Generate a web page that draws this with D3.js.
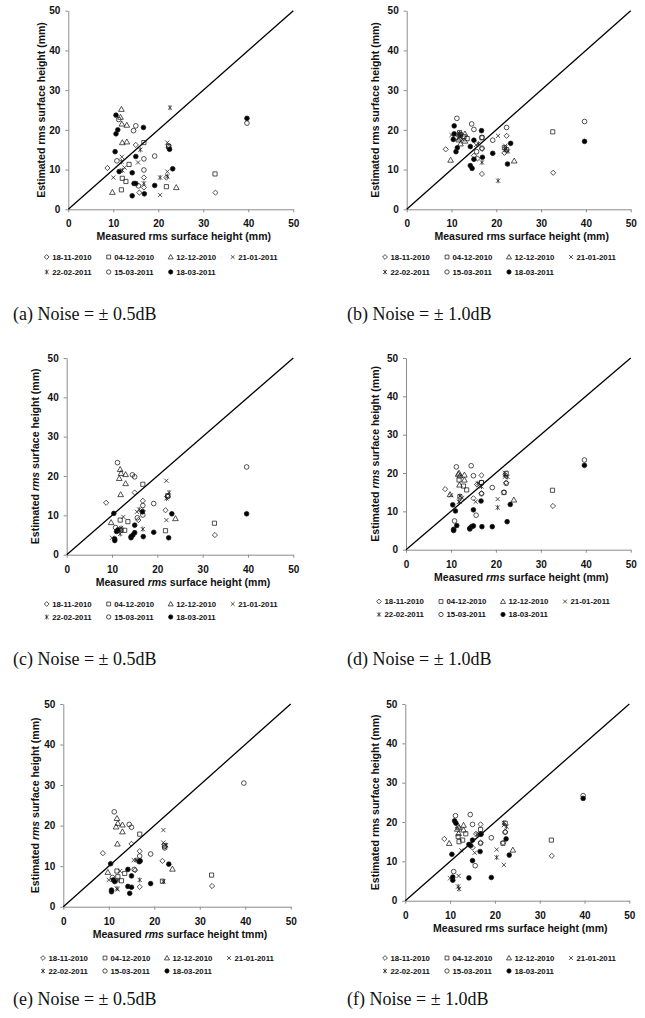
<!DOCTYPE html>
<html>
<head>
<meta charset="utf-8">
<script src="https://cdnjs.cloudflare.com/ajax/libs/d3/7.8.5/d3.min.js"></script>
<style>
  body { margin: 0; background: #fff; }
</style>
</head>
<body>
<div id="chart"></div>
<script>
// survey dates (legend) and marker style per date
var dates = ["18-11-2010", "04-12-2010", "12-12-2010", "21-01-2011", "22-02-2011", "15-03-2011", "18-03-2011"];
var shapes = ["diamond", "square", "triangle", "cross", "star", "circle", "dot"];

// measured rms surface height (mm), same field points in every panel
var meas1 = [8.7, 15.0, 15.8, 16.8, 16.8, 21.8, 22.3, 32.7];
var meas2 = [11.8, 12.0, 12.8, 13.5, 16.8, 21.8, 22.3, 32.6];
var meas3 = [9.8, 11.6, 11.8, 11.9, 12.0, 13.0, 13.0, 24.0];
var meas4 = [10.0, 11.9, 12.5, 15.5, 20.4, 22.0, 22.0];
var meas5 = [11.8, 12.0, 16.0, 16.8, 20.4, 22.0, 22.6];
var meas6 = [10.8, 11.2, 14.5, 15.0, 15.6, 16.8, 16.8, 19.2, 22.3, 39.7];
var meas7 = [10.4, 10.6, 10.6, 11.0, 11.3, 14.2, 14.2, 14.6, 15.0, 15.0, 16.7, 16.9, 19.2, 22.5, 23.2, 39.7];
var measured = [meas1, meas2, meas3, meas4, meas5, meas6, meas7];

// estimated rms surface height (mm), one list per date, per panel
var estA = [
  [10.4, 16.2, 4.2, 8.0, 5.5, 8.0, 15.5, 4.2],
  [4.9, 7.8, 7.0, 11.3, 16.8, 5.7, 15.8, 8.9],
  [4.3, 23.2, 25.2, 21.5, 16.8, 21.2, 17.0, 5.5],
  [8.0, 13.2, 10.5, 11.8, 3.6, 16.8, 9.5],
  [12.0, 9.8, 15.0, 6.5, 8.0, 8.3, 25.6],
  [12.2, 22.6, 19.8, 21.0, 5.9, 12.7, 9.9, 13.4, 16.0, 21.7],
  [14.5, 23.7, 19.0, 20.0, 9.5, 9.2, 3.4, 6.5, 6.5, 13.3, 20.6, 3.9, 6.0, 15.1, 10.2, 22.9]
];
var estB = [
  [15.1, 13.5, 12.8, 8.9, 15.2, 14.2, 18.5, 9.2],
  [19.3, 18.8, 18.3, 17.8, 18.0, 15.5, 15.0, 19.5],
  [12.4, 17.5, 19.0, 18.0, 16.5, 19.0, 17.2, 12.2],
  [18.7, 18.2, 17.6, 16.2, 18.5, 15.5, 16.0],
  [19.0, 18.5, 16.5, 11.8, 7.2, 15.0, 14.6],
  [18.0, 22.9, 21.5, 20.1, 14.5, 18.1, 15.4, 17.4, 20.6, 22.1],
  [17.6, 21.0, 19.0, 14.5, 15.5, 15.8, 11.0, 10.3, 17.4, 12.6, 19.8, 13.1, 14.1, 11.4, 16.6, 17.1]
];
var estC = [
  [13.2, 15.8, 8.8, 13.7, 11.1, 11.3, 14.8, 5.0],
  [8.8, 6.3, 6.2, 8.4, 17.9, 6.1, 15.0, 8.0],
  [8.2, 19.4, 21.7, 15.3, 20.7, 20.4, 18.1, 9.2],
  [4.3, 6.0, 9.6, 10.9, null, 18.8, 8.8],
  [5.3, 6.8, 11.5, 6.5, null, 14.3, 15.8],
  [6.9, 23.4, 20.3, 19.8, 9.4, 12.5, 10.1, 13.0, 14.8, 22.3],
  [10.5, 4.0, 3.6, 5.9, 6.3, 4.6, 4.3, 5.0, 7.5, 5.6, 10.9, 4.6, 5.7, 4.3, 10.4, 10.4]
];
var estD = [
  [15.8, 13.4, 17.0, 19.4, 14.7, 15.0, 17.5, 11.4],
  [18.2, 13.8, 16.6, 15.6, 17.5, 14.9, 19.9, 15.5],
  [14.4, 19.7, 20.0, 16.9, 19.3, 19.5, 18.2, 13.0],
  [14.2, 12.5, 13.5, 12.5, 13.2, 20.1, 19.0],
  [12.5, 14.0, 17.3, 16.5, 11.0, 19.5, 19.0],
  [7.5, 21.6, 21.9, 19.3, 9.0, 17.5, 14.6, 16.2, 17.3, 23.4],
  [11.7, 5.3, 5.0, 10.1, 6.3, 5.4, 5.6, 6.0, 6.2, 10.4, 12.7, 6.0, 6.0, 7.3, 11.8, 22.0]
];
var estE = [
  [13.2, 15.5, 9.0, 13.7, 4.9, 11.3, 14.8, 5.1],
  [8.8, 7.4, 6.4, 8.2, 17.9, 6.3, 15.0, 7.8],
  [8.5, 19.7, 21.8, 15.5, 20.6, 18.5, 20.2, 9.3],
  [6.6, 4.3, 8.8, 11.5, null, 18.9, 15.8],
  [4.5, 6.5, 11.5, 6.6, null, 6.2, 15.2],
  [7.2, 23.4, 20.3, 19.6, 9.2, 12.5, 11.3, 13.0, 14.5, 30.5],
  [10.6, 3.7, 4.1, 6.6, 6.2, 9.2, 5.0, 3.3, 4.8, 7.6, 11.1, 11.3, 5.7, null, 10.5, null]
];
var estF = [
  [15.7, 13.5, 17.0, 19.4, 14.8, 14.7, 17.5, 11.4],
  [16.3, 15.0, 15.4, 17.0, 18.1, 14.6, 19.7, 15.4],
  [14.6, 18.2, 19.0, 17.1, 18.6, 19.2, 18.0, 12.9],
  [5.7, 6.3, 12.8, 12.2, 13.0, 19.2, 9.1],
  [3.6, 3.0, 16.8, 17.0, 11.0, 19.8, 18.8],
  [7.4, 21.6, 21.9, 19.4, 8.9, 16.9, 14.6, 16.0, 17.4, 26.7],
  [11.8, 5.2, 6.0, 20.3, 19.7, 14.3, 5.8, 14.0, 15.4, 10.2, 12.5, 16.9, 5.9, 15.7, 11.6, 26.0]
];
var estimates = [estA, estB, estC, estD, estE, estF];

var captions = ["(a) Noise = \u00b1 0.5dB", "(b) Noise = \u00b1 1.0dB", "(c) Noise = \u00b1 0.5dB",
                "(d) Noise = \u00b1 1.0dB", "(e) Noise = \u00b1 0.5dB", "(f) Noise = \u00b1 1.0dB"];
var xTitleEnd = ["(mm)", "(mm)", "(mm)", "(mm)", "tmm)", "(mm)"];
var italicRms = [false, false, true, true, true, false];
var ticks = [0, 10, 20, 30, 40, 50];

// where each panel sits on the page
var layout = [
  {x0: 68.3, x1: 293.3, top: 10.7, bot: 209.3, yt: -27, legX: 46.7, legY: 257, legY2: 272, capX: 13, capY: 320},
  {x0: 406.7, x1: 630.7, top: 10.7, bot: 209.3, yt: -31, legX: 385, legY: 257, legY2: 272, capX: 347, capY: 320},
  {x0: 66.7, x1: 293.3, top: 358, bot: 554.7, yt: -31, legX: 46.7, legY: 604, legY2: 617, capX: 13, capY: 665},
  {x0: 406, x1: 630.7, top: 358, bot: 549.7, yt: -31, legX: 379, legY: 601.5, legY2: 614.5, capX: 347, capY: 665},
  {x0: 63.3, x1: 290.7, top: 704, bot: 906.7, yt: -28, legX: 43, legY: 958, legY2: 971, capX: 13, capY: 1005},
  {x0: 405.3, x1: 629.3, top: 704, bot: 900.7, yt: -30, legX: 385, legY: 958, legY2: 971, capX: 347, capY: 1005}
];

var sans = "'Liberation Sans', Arial, sans-serif";
var serif = "'Liberation Serif', 'Times New Roman', serif";

var svg = d3.select("#chart").append("svg")
  .attr("width", 645)
  .attr("height", 1018);

// marker outlines
function markerPath(type, s) {
  var q = s * 0.8;
  if (type == "diamond") return "M0," + (-s) + "L" + s + ",0L0," + s + "L" + (-s) + ",0Z";
  if (type == "square") return "M" + (-q) + "," + (-q) + "H" + q + "V" + q + "H" + (-q) + "Z";
  if (type == "triangle") return "M0," + (-s * 1.05) + "L" + (s * 1.05) + "," + (s * 0.8) + "L" + (-s * 1.05) + "," + (s * 0.8) + "Z";
  if (type == "cross") return "M" + (-q) + "," + (-q) + "L" + q + "," + q + "M" + (-q) + "," + q + "L" + q + "," + (-q);
  if (type == "star") return "M" + (-q) + "," + (-q) + "L" + q + "," + q + "M" + (-q) + "," + q + "L" + q + "," + (-q) + "M0," + (-s) + "L0," + s;
  var p = d3.path();
  p.arc(0, 0, s * 0.9, 0, 2 * Math.PI);
  return p.toString();
}

function drawMarker(g, type, s) {
  g.append("path")
    .attr("d", markerPath(type, s))
    .attr("fill", type == "dot" ? "#000" : "none")
    .attr("stroke", "#1a1a1a")
    .attr("stroke-width", 0.75);
}

function titleText(sel, first, rest, italic) {
  sel.append("tspan").text(first);
  sel.append("tspan").attr("font-style", italic ? "italic" : "normal").text("rms");
  sel.append("tspan").text(rest);
}

layout.forEach(function(L, p) {
  var x = d3.scaleLinear().domain([0, 50]).range([L.x0, L.x1]);
  var y = d3.scaleLinear().domain([0, 50]).range([L.bot, L.top]);
  var g = svg.append("g");

  // axes
  var xAxis = g.append("g")
    .attr("transform", "translate(0," + L.bot + ")")
    .call(d3.axisBottom(x).tickValues(ticks).tickSize(3).tickSizeOuter(0).tickPadding(8));
  var yAxis = g.append("g")
    .attr("transform", "translate(" + L.x0 + ",0)")
    .call(d3.axisLeft(y).tickValues(ticks).tickSize(3).tickSizeOuter(0).tickPadding(5));
  [xAxis, yAxis].forEach(function(a) {
    a.select(".domain").attr("stroke", "#8c8c8c");
    a.selectAll(".tick line").attr("stroke", "#8c8c8c");
    a.selectAll(".tick text")
      .attr("fill", "#111")
      .style("font-family", sans)
      .style("font-size", "10px")
      .style("font-weight", "bold");
  });

  // 1:1 line
  g.append("line")
    .attr("x1", x(0)).attr("y1", y(0))
    .attr("x2", x(50)).attr("y2", y(50))
    .attr("stroke", "#000")
    .attr("stroke-width", 1.3);

  // points
  estimates[p].forEach(function(vals, si) {
    var pts = vals.map(function(v, i) { return {mx: measured[si][i], ev: v}; })
      .filter(function(d) { return d.ev != null; });
    var s = si == 2 ? 2.7 : 2.6;
    g.selectAll(".pt" + si)
      .data(pts)
      .enter()
      .append("g")
      .attr("transform", function(d) { return "translate(" + x(d.mx) + "," + y(d.ev) + ")"; })
      .each(function() { drawMarker(d3.select(this), shapes[si], s); });
  });

  // axis titles
  var xt = g.append("text")
    .attr("x", (L.x0 + L.x1) / 2 + 3)
    .attr("y", L.bot + 31)
    .attr("text-anchor", "middle")
    .style("font-family", sans)
    .style("font-size", "10.5px")
    .style("font-weight", "bold")
    .attr("fill", "#111");
  titleText(xt, "Measured ", " surface height " + xTitleEnd[p], italicRms[p]);

  var yt = g.append("text")
    .attr("transform", "translate(" + (L.x0 + L.yt) + "," + ((L.top + L.bot) / 2) + ") rotate(-90)")
    .attr("text-anchor", "middle")
    .attr("dy", "0.35em")
    .style("font-family", sans)
    .style("font-size", "10.5px")
    .style("font-weight", "bold")
    .attr("fill", "#111");
  titleText(yt, "Estimated ", " surface height (mm)", italicRms[p]);

  // legend, two rows
  dates.forEach(function(dt, si) {
    var col = si < 4 ? si : si - 4;
    var lx = L.legX + col * 62;
    var ly = si < 4 ? L.legY : L.legY2;
    var lg = g.append("g").attr("transform", "translate(" + lx + "," + ly + ")");
    drawMarker(lg, shapes[si], 2.4);
    lg.append("text")
      .attr("x", 5.5)
      .attr("dy", "0.35em")
      .style("font-family", sans)
      .style("font-size", "7.8px")
      .style("font-weight", "bold")
      .attr("fill", "#111")
      .text(dt);
  });

  // caption
  g.append("text")
    .attr("x", L.capX)
    .attr("y", L.capY)
    .style("font-family", serif)
    .style("font-size", "18px")
    .attr("fill", "#111")
    .text(captions[p]);
});
</script>
</body>
</html>
